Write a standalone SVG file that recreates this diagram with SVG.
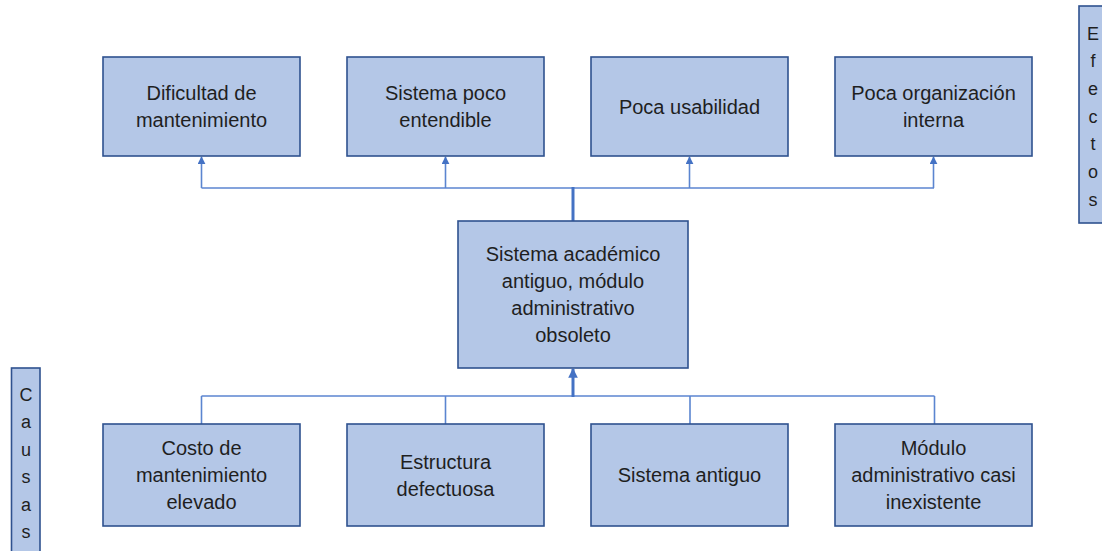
<svg xmlns="http://www.w3.org/2000/svg" width="1102" height="551" viewBox="0 0 1102 551">
<style>
.box{fill:#B4C7E7;stroke:#2F528F;stroke-width:1.6}
.t{font-family:"Liberation Sans",Arial,sans-serif;font-size:20px;fill:#1F1F1F;text-anchor:middle}
.v{font-family:"Liberation Sans",Arial,sans-serif;font-size:18px;fill:#1F1F1F;text-anchor:middle}
.ln{fill:none;stroke:#5B85D0;stroke-width:1.6}
.thick{fill:none;stroke:#4472C4;stroke-width:3}
</style>
<defs>
<marker id="ah" viewBox="0 0 10 10" refX="9" refY="5" markerWidth="5" markerHeight="5" orient="auto" markerUnits="strokeWidth">
<path d="M0,0 L10,5 L0,10 z" fill="#4472C4"/>
</marker>
<marker id="ahs" viewBox="0 0 10 10" refX="9" refY="5" markerWidth="3.2" markerHeight="3.2" orient="auto" markerUnits="strokeWidth">
<path d="M0,0 L10,5 L0,10 z" fill="#4472C4"/>
</marker>
</defs>
<rect width="1102" height="551" fill="#FFFFFF"/>
<g id="connectors">
<path class="ln" d="M201.5,188 H934"/>
<path class="ln" d="M201.5,188 V157" marker-end="url(#ah)"/>
<path class="ln" d="M445.5,188 V157" marker-end="url(#ah)"/>
<path class="ln" d="M689.5,188 V157" marker-end="url(#ah)"/>
<path class="ln" d="M933.5,188 V157" marker-end="url(#ah)"/>
<path class="thick" d="M573,221 V187"/>
<path class="ln" d="M201.5,396 H934.5"/>
<path class="ln" d="M201.5,396 V424 M445.5,396 V424 M690,396 V424 M934.5,396 V424"/>
<path class="thick" d="M573,397 V369" marker-end="url(#ahs)"/>
</g>
<g id="n1"><rect class="box" x="103" y="57" width="197" height="99"/><text class="t" x="201.5" y="100">Dificultad de</text><text class="t" x="201.5" y="127">mantenimiento</text></g>
<g id="n2"><rect class="box" x="347" y="57" width="197" height="99"/><text class="t" x="445.5" y="100">Sistema poco</text><text class="t" x="445.5" y="127">entendible</text></g>
<g id="n3"><rect class="box" x="591" y="57" width="197" height="99"/><text class="t" x="689.5" y="114">Poca usabilidad</text></g>
<g id="n4"><rect class="box" x="835" y="57" width="197" height="99"/><text class="t" x="933.5" y="100">Poca organización</text><text class="t" x="933.5" y="127">interna</text></g>
<g id="center"><rect class="box" x="458" y="221" width="230" height="147"/><text class="t" x="573" y="261">Sistema académico</text><text class="t" x="573" y="288">antiguo, módulo</text><text class="t" x="573" y="315">administrativo</text><text class="t" x="573" y="342">obsoleto</text></g>
<g id="c1"><rect class="box" x="103" y="424" width="197" height="102"/><text class="t" x="201.5" y="455">Costo de</text><text class="t" x="201.5" y="482">mantenimiento</text><text class="t" x="201.5" y="509">elevado</text></g>
<g id="c2"><rect class="box" x="347" y="424" width="197" height="102"/><text class="t" x="445.5" y="468.5">Estructura</text><text class="t" x="445.5" y="495.5">defectuosa</text></g>
<g id="c3"><rect class="box" x="591" y="424" width="197" height="102"/><text class="t" x="689.5" y="482">Sistema antiguo</text></g>
<g id="c4"><rect class="box" x="835" y="424" width="197" height="102"/><text class="t" x="933.5" y="455">Módulo</text><text class="t" x="933.5" y="482">administrativo casi</text><text class="t" x="933.5" y="509">inexistente</text></g>
<g id="efectos"><rect class="box" x="1079" y="6" width="29" height="217"/>
<text class="v" x="1093" y="39.5">E</text><text class="v" x="1093" y="67.2">f</text><text class="v" x="1093" y="94.9">e</text><text class="v" x="1093" y="122.6">c</text><text class="v" x="1093" y="150.3">t</text><text class="v" x="1093" y="178">o</text><text class="v" x="1093" y="205.7">s</text></g>
<g id="causas"><rect class="box" x="11.5" y="368" width="28.5" height="190"/>
<text class="v" x="26" y="400.7">C</text><text class="v" x="26" y="428.2">a</text><text class="v" x="26" y="455.7">u</text><text class="v" x="26" y="483.2">s</text><text class="v" x="26" y="510.7">a</text><text class="v" x="26" y="538.2">s</text></g>
</svg>
